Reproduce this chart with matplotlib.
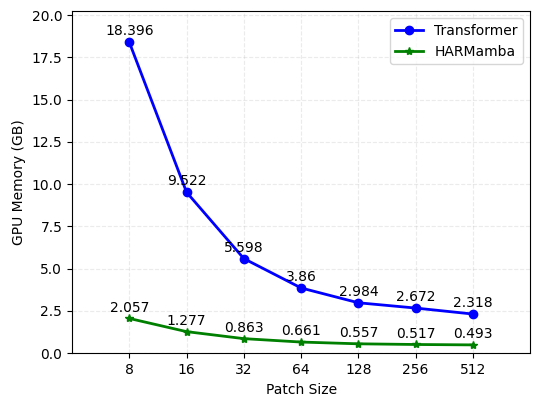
import matplotlib
matplotlib.use("Agg")
import matplotlib.pyplot as plt

patch_sizes = [8, 16, 32, 64, 128, 256, 512]
transformer_mem = [18.396, 9.522, 5.598, 3.86, 2.984, 2.672, 2.318]
harmamba_mem = [2.057, 1.277, 0.863, 0.661, 0.557, 0.517, 0.493]
tick_labels = ["8", "16", "32", "64", "128", "256", "512"]

fig, ax = plt.subplots(figsize=(5.54, 3.96), dpi=100)
fig.subplots_adjust(left=0.13, right=0.957, top=0.972, bottom=0.108)

ax.plot(patch_sizes, transformer_mem, color="blue", marker="o", markersize=6, linewidth=2, label="Transformer")
ax.plot(patch_sizes, harmamba_mem, color="green", marker="*", markersize=6, linewidth=2, label="HARMamba")

for x, y in zip(patch_sizes, transformer_mem):
    ax.annotate(f"{y}", (x, y), textcoords="offset points", xytext=(0, 5), ha="center", fontsize=10)
for x, y in zip(patch_sizes, harmamba_mem):
    ax.annotate(f"{y}", (x, y), textcoords="offset points", xytext=(0, 5), ha="center", fontsize=10)

ax.set_xscale("log", base=2)
ax.set_xticks(patch_sizes)
ax.set_xticklabels(tick_labels)
ax.minorticks_off()
ax.set_xlim(4, 1024)
ax.set_ylim(0, max(transformer_mem) * 1.1)
ax.set_xlabel("Patch Size")
ax.set_ylabel("GPU Memory (GB)")
ax.grid(True, linestyle="--", alpha=0.25)
ax.legend(loc="upper right")

fig.savefig("out.png", dpi=100)
